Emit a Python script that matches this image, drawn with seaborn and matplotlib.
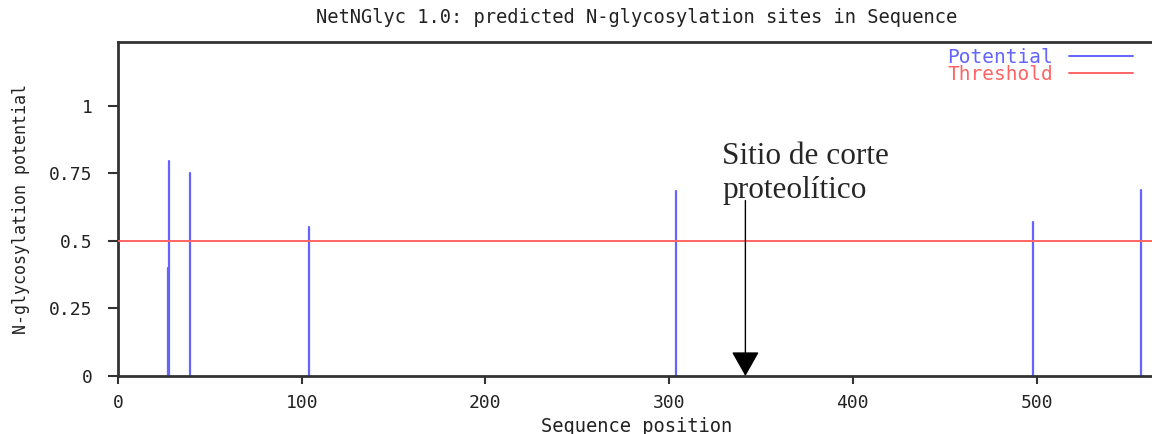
import numpy as np
import pandas as pd
import matplotlib
matplotlib.use("Agg")
import matplotlib.pyplot as plt
import seaborn as sns
from matplotlib.lines import Line2D

# data
positions = [27, 28, 39, 104, 304, 498, 557]
potentials = [0.40, 0.795, 0.75, 0.55, 0.685, 0.57, 0.69]
threshold = 0.5
cleavage_site = 341.5
yticks = [0, 0.25, 0.5, 0.75, 1]
ytick_labels = ["0", "0.25", "0.5", "0.75", "1"]
xticks = [0, 100, 200, 300, 400, 500]

blue = "#6464ff"
red = "#ff6464"
mono = "DejaVu Sans Mono"

sns.set_theme(style="white")
plt.rcParams["font.family"] = [mono]

rows = []
for i, (p, v) in enumerate(zip(positions, potentials)):
    rows.append({"site": i, "pos": p, "val": 0.0})
    rows.append({"site": i, "pos": p, "val": v})
df = pd.DataFrame(rows)

fig = plt.figure(figsize=(11.52, 4.34), dpi=100)
ax = fig.add_axes([118 / 1152, 58 / 434, 1038 / 1152, 334 / 434])

sns.lineplot(data=df, x="pos", y="val", units="site", estimator=None,
             color=blue, lw=1.6, ax=ax, legend=False)
ax.axhline(threshold, color=red, lw=1.4, zorder=3)

ax.set_xlim(0, 565)
ax.set_ylim(0, 1.237)
ax.set_xticks(xticks)
ax.set_xticklabels([str(t) for t in xticks], fontsize=13, family=mono, color="#222222")
ax.set_yticks(yticks)
ax.set_yticklabels(ytick_labels, fontsize=13, family=mono, color="#222222")
ax.tick_params(axis="y", direction="out", length=7.2, width=1.5, color="#333333",
               left=True, pad=11)
ax.tick_params(axis="x", direction="out", length=5.8, width=1.5, color="#333333",
               bottom=True, pad=7)

for s in ax.spines.values():
    s.set_color("#333333")
    s.set_linewidth(2)

ax.set_xlabel("Sequence position", fontsize=13.5, family=mono, labelpad=4, color="#222222")
ax.set_ylabel("N-glycosylation potential", fontsize=12, family=mono, labelpad=14, color="#222222")
ax.set_title("NetNGlyc 1.0: predicted N-glycosylation sites in Sequence",
             fontsize=13.5, family=mono, pad=13.5, color="#222222")

handles = [Line2D([0], [0], color=blue, lw=1.4), Line2D([0], [0], color=red, lw=1.4)]
leg = ax.legend(handles, ["Potential", "Threshold"], loc="upper right",
                bbox_to_anchor=(1133 / 1152, 1 - 48 / 434), bbox_transform=fig.transFigure,
                frameon=False, markerfirst=False,
                labelcolor="linecolor", prop={"family": mono, "size": 14},
                handlelength=3.3, handletextpad=0.8, labelspacing=-0.1,
                borderaxespad=0.0, borderpad=0.0)

ax.annotate("", xy=(cleavage_site, 0), xytext=(cleavage_site, 0.65),
            arrowprops=dict(arrowstyle="-|>,head_length=0.62,head_width=0.35",
                            mutation_scale=25, lw=1, color="black",
                            shrinkA=0, shrinkB=0), zorder=5)
ax.text(329, 0.865, "Sitio de corte\nproteolítico", fontsize=22.5,
        family="Liberation Serif", va="top", ha="left", linespacing=1.22)

fig.savefig("out.png", dpi=100)
